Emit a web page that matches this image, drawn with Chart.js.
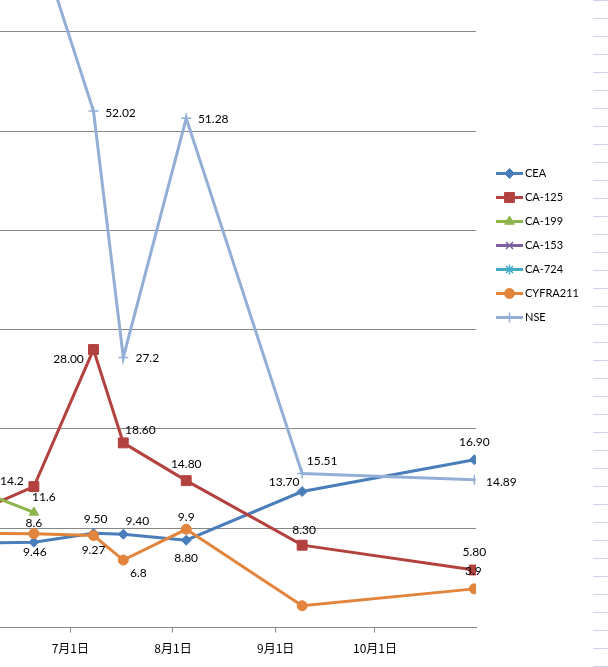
<!DOCTYPE html>
<html>
<head>
<meta charset="utf-8">
<script src="https://cdn.jsdelivr.net/npm/chart.js"></script>
<style>
  html, body { margin: 0; padding: 0; background: #fff; }
  #wrap { position: relative; width: 608px; height: 667px; overflow: hidden; background: #fff; }
  /* spreadsheet row lines peeking out on the right */
  #rows {
    position: absolute; left: 593px; top: 0; width: 15px; height: 667px;
    background: repeating-linear-gradient(to bottom, #cdd6e6 0px, #cdd6e6 1px, transparent 1px, transparent 18px);
  }
  #chart { position: absolute; left: 0; top: 0; }
</style>
</head>
<body>
<div id="wrap">
  <div id="rows"></div>
  <canvas id="chart" width="608" height="667"></canvas>
</div>
<script>
// data
const dates = ["2013-05-31", "2013-06-20", "2013-07-08", "2013-07-17", "2013-08-05", "2013-09-09", "2013-10-31"];
const cea = [8.5, 8.6, 9.5, 9.4, 8.8, 13.7, 16.9];
const ca125 = [11.3, 14.2, 28.0, 18.6, 14.8, 8.3, 5.8];
const ca199 = [14.2, 11.6, null, null, null, null, null];
const ca153 = [null, null, null, null, null, null, null];
const ca724 = [null, null, null, null, null, null, null];
const cyfra211 = [9.5, 9.46, 9.27, 6.8, 9.9, 2.2, 3.9];
const nse = [76, 70.6, 52.02, 27.2, 51.28, 15.51, 14.89];

const tickDates = ["2013-07-01", "2013-08-01", "2013-09-01", "2013-10-01"];
const tickLabels = ["7月1日", "8月1日", "9月1日", "10月1日"];
const yTicks = [0, 10, 20, 30, 40, 50, 60];

// where each value label sits: [dx, dy, decimals], null = no label
const labelPlacement = [
  [null, [0, -19, 1], [2, -14, 2], [14, -13, 2], [0, 18, 2], [-18, -9, 2], [0, -18, 2]],
  [null, [-22, -5, 1], [-25, 10, 2], [17, -13, 2], [0, -17, 2], [2, -15, 2], [0, -18, 2]],
  [null, [10, -15, 1], null, null, null, null, null],
  [null, null, null, null, null, null, null],
  [null, null, null, null, null, null, null],
  [null, [1, 18, 2], [0, 15, 2], [15, 13, 1], [0, -12, 1], null, [-1, -18, 1]],
  [null, null, [27, 2, 2], [24, 1, 1], [27, 1, 2], [20, -12, 2], [27, 2, 2]],
];

function dayOfYear(s) {
  return (Date.parse(s) - Date.parse("2013-01-01")) / 86400000;
}

function toPoints(values) {
  return values.map((v, i) => ({ x: dayOfYear(dates[i]), y: v }));
}

function series(label, values, color, style, radius, order) {
  return {
    label: label,
    data: toPoints(values),
    borderColor: color,
    backgroundColor: color,
    borderWidth: 3,
    pointStyle: style,
    pointRadius: radius,
    pointBackgroundColor: color,
    pointBorderColor: color,
    pointBorderWidth: style === "cross" || style === "crossRot" || style === "star" ? 1.5 : 1,
    tension: 0,
    order: order,
  };
}

const valueLabels = {
  id: "valueLabels",
  afterDatasetsDraw(chart) {
    const ctx = chart.ctx;
    ctx.save();
    ctx.font = "12px Lato";
    ctx.fillStyle = "#000";
    ctx.textAlign = "center";
    ctx.textBaseline = "middle";
    chart.data.datasets.forEach((ds, i) => {
      const meta = chart.getDatasetMeta(i);
      meta.data.forEach((pt, j) => {
        const place = labelPlacement[i][j];
        const v = ds.data[j].y;
        if (!place || v === null) return;
        ctx.fillText(v.toFixed(place[2]), pt.x + place[0], pt.y + place[1]);
      });
    });
    ctx.restore();
  },
};

const sideLegend = {
  id: "sideLegend",
  afterDraw(chart) {
    const ctx = chart.ctx;
    chart.data.datasets.forEach((ds, i) => {
      const y = 173.5 + i * 24;
      ctx.save();
      ctx.strokeStyle = ds.borderColor;
      ctx.lineWidth = 3;
      ctx.beginPath();
      ctx.moveTo(496, y);
      ctx.lineTo(523, y);
      ctx.stroke();
      ctx.fillStyle = ds.pointBackgroundColor;
      ctx.strokeStyle = ds.pointBorderColor;
      ctx.lineWidth = ds.pointBorderWidth;
      if (Chart.helpers && Chart.helpers.drawPoint) {
        Chart.helpers.drawPoint(ctx, { pointStyle: ds.pointStyle, radius: ds.pointRadius, borderWidth: ds.pointBorderWidth, rotation: 0 }, 509.5, y);
      } else {
        ctx.beginPath();
        ctx.arc(509.5, y, 4, 0, Math.PI * 2);
        ctx.fill();
      }
      ctx.font = "11px Lato";
      ctx.fillStyle = "#000";
      ctx.textAlign = "left";
      ctx.textBaseline = "middle";
      ctx.fillText(ds.label, 525, y);
      ctx.restore();
    });
  },
};

const ctx = document.getElementById("chart");

new Chart(ctx, {
  type: "line",
  data: {
    datasets: [
      series("CEA", cea, "#4A7EBB", "rectRot", 5, 7),
      series("CA-125", ca125, "#B3423F", "rect", 7, 6),
      series("CA-199", ca199, "#8EB44C", "triangle", 5.5, 5),
      series("CA-153", ca153, "#7D60A0", "crossRot", 5, 4),
      series("CA-724", ca724, "#46AAC5", "star", 5, 3),
      series("CYFRA211", cyfra211, "#E2843B", "circle", 5, 2),
      series("NSE", nse, "#93AFD6", "cross", 5, 1),
    ],
  },
  plugins: [valueLabels, sideLegend],
  options: {
    responsive: false,
    animation: false,
    layout: { autoPadding: false, padding: { left: 0, right: 132, top: 0, bottom: 2 } },
    plugins: {
      legend: { display: false },
      tooltip: { enabled: false },
    },
    scales: {
      x: {
        type: "linear",
        min: 159.77,
        max: 303.5,
        afterBuildTicks: (scale) => {
          scale.ticks = tickDates.map((d) => ({ value: dayOfYear(d) }));
        },
        ticks: {
          padding: 9,
          color: "#000",
          font: { family: "'Noto Sans CJK JP'", size: 12 },
          maxRotation: 0,
          autoSkip: false,
          callback: (value, index) => tickLabels[index],
        },
        grid: {
          drawOnChartArea: false,
          drawTicks: true,
          tickLength: 5,
          color: "#868686",
        },
        border: { color: "#868686", width: 1 },
      },
      y: {
        min: 0,
        max: 63.2,
        afterBuildTicks: (scale) => {
          scale.ticks = yTicks.map((v) => ({ value: v }));
        },
        ticks: { display: false, padding: 0 },
        grid: { color: "#868686", drawTicks: false, tickLength: 0 },
        border: { display: false },
      },
    },
  },
});
</script>
</body>
</html>
